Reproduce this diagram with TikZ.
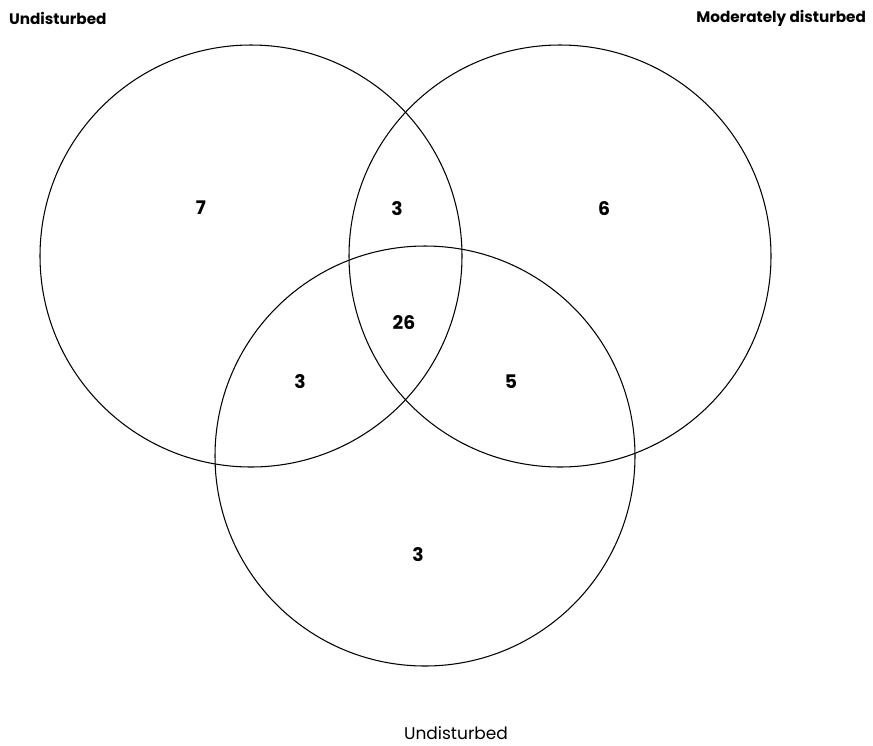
\documentclass[tikz,border=0pt]{standalone}
\usepackage{fontspec}
\setmainfont{Poppins}
\usetikzlibrary{positioning}
\tikzset{
  setring/.style={line width=0.9pt},
  count/.style={font=\fontsize{16}{18}\selectfont\bfseries},
  title/.style={font=\fontsize{13}{15}\selectfont\bfseries},
  subtitle/.style={font=\fontsize{14.5}{16}\selectfont}
}
\begin{document}
\begin{tikzpicture}[x=0.03cm,y=-0.03cm]
\useasboundingbox (0,0) rectangle (873,745);
% sets
\draw[setring] (251,256) circle (211);
\draw[setring] (560,256) circle (211);
\draw[setring] (425,456) circle (210);
% titles
\node[title,anchor=west] (tl) at (5,18) {Undisturbed};
\node[title,anchor=east] (tr) at (870,18) {Moderately disturbed};
\node[subtitle,anchor=base] (bt) at (456,739) {Undisturbed};
% region counts
\node[count] (a) at (201,208) {7};
\node[count] (ab) at (397,209) {3};
\node[count] (b) at (604,209) {6};
\node[count] (abc) at (404,323) {26};
\node[count] (ac) at (300,382) {3};
\node[count] (bc) at (511,382) {5};
\node[count] (c) at (418,555) {3};
\end{tikzpicture}
\end{document}
